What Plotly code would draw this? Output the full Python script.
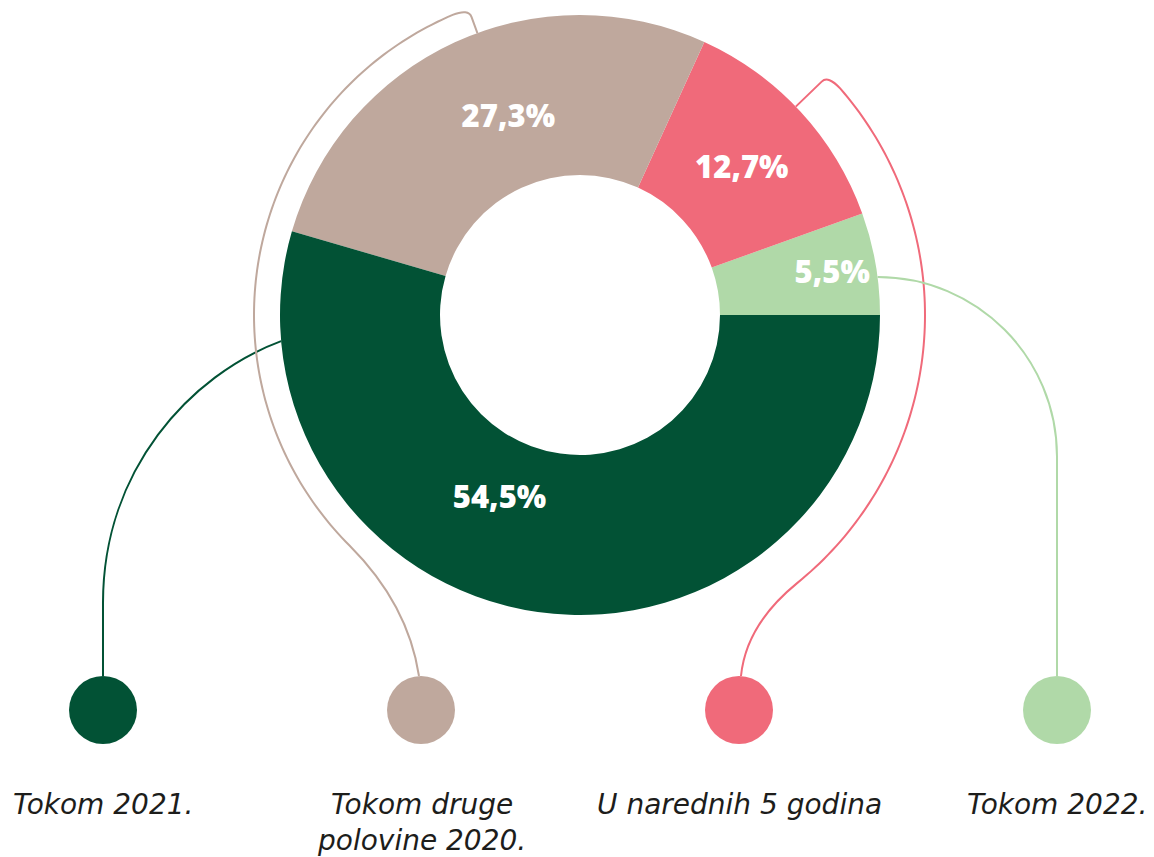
import numpy as np
import plotly.graph_objects as go

# ---------------- data ----------------
slice_labels = ["Tokom 2022.", "U narednih 5 godina", "Tokom druge polovine 2020.", "Tokom 2021."]
slice_values = [5.5, 12.7, 27.3, 54.5]
slice_colors = ["#B0D9A8", "#F06A7A", "#BFA89D", "#025235"]

legend_keys = ["Tokom 2021.", "Tokom druge polovine 2020.", "U narednih 5 godina", "Tokom 2022."]
legend_texts = ["Tokom 2021.", "Tokom druge<br>polovine 2020.", "U narednih 5 godina", "Tokom 2022."]
legend_colors = ["#025235", "#BFA89D", "#F06A7A", "#B0D9A8"]

# ---------------- layout constants ----------------
W, H = 1154, 857
CX, CY, R_OUT, R_IN = 580, 315, 300, 140
ROW_Y = 710          # pixel row of legend dots
DOT_STEP = 318       # pixel spacing between legend dots
FIRST_DOT = 103


def pt(x, y):
    return f"{x / W:.5f},{1 - y / H:.5f}"


def polar(r, deg):
    a = np.radians(deg)
    return CX + r * np.cos(a), CY - r * np.sin(a)


def arc_cmds(r, a_from, a_to, step=1.0):
    n = int(abs(a_to - a_from) / step) + 1
    angs = np.linspace(a_from, a_to, n)
    return " ".join("L " + pt(*polar(r, a)) for a in angs)


def hook_arc_path(a0, r_arc, a_end, sign, tail):
    s = polar(R_OUT, a0)
    ci = polar(r_arc - 9, a0)
    c = polar(r_arc, a0)
    af = polar(r_arc, a0 + sign * 3)
    p = f"M {pt(*s)} L {pt(*ci)} Q {pt(*c)} {pt(*af)} "
    p += arc_cmds(r_arc, a0 + sign * 3, a_end)
    (c1, c2, e) = tail
    p += f" C {pt(*c1)} {pt(*c2)} {pt(*e)}"
    return p


shapes = []
dot_r = 34
# dark green connector
s = polar(R_OUT, 185)
p_dg = (f"M {pt(*s)} C {pt(190, 375)} {pt(FIRST_DOT, 470)} {pt(FIRST_DOT, 603)} "
        f"L {pt(FIRST_DOT, ROW_Y - dot_r)}")
# taupe connector
end_t = polar(326, 225)
p_tp = hook_arc_path(110, 326, 225, +1,
                     ((end_t[0] + 40, end_t[1] + 40), (412, 630),
                      (FIRST_DOT + DOT_STEP - 2, ROW_Y - dot_r)))
# pink connector
end_p = polar(345, -51)
p_pk = hook_arc_path(44, 345, -51, -1,
                     ((end_p[0] - 27, end_p[1] + 22), (745, 635),
                      (FIRST_DOT + 2 * DOT_STEP + 2, ROW_Y - dot_r)))
# light green connector
x4 = FIRST_DOT + 3 * DOT_STEP
sy = 277
sx = CX + np.sqrt(R_OUT ** 2 - (CY - sy) ** 2)
rad = x4 - sx
k = 0.5523
p_lg = (f"M {pt(sx, sy)} C {pt(sx + k * rad, sy)} {pt(x4, sy + rad - k * rad)} {pt(x4, sy + rad)} "
        f"L {pt(x4, ROW_Y - dot_r)}")

for path, col in [(p_dg, legend_colors[0]), (p_tp, legend_colors[1]),
                  (p_pk, legend_colors[2]), (p_lg, legend_colors[3])]:
    shapes.append(dict(type="path", path=path, xref="paper", yref="paper",
                       line=dict(color=col, width=2), layer="below"))

fig = go.Figure()

# first slice should start at 3 o'clock and run counter-clockwise
first_share = slice_values[0] / sum(slice_values) * 360

# per-slice label templates (padding nudges label placement like the original)
NB = "&nbsp;"
label_templates = [
    "%{value:.1f}%",
    "%{value:.1f}%",
    NB * 5 + "%{value:.1f}%",
    "%{value:.1f}%" + NB * 20,
]

fig.add_trace(go.Pie(
    labels=slice_labels, values=slice_values,
    marker=dict(colors=slice_colors, line=dict(width=0)),
    hole=R_IN / R_OUT, sort=False, direction="counterclockwise",
    rotation=90 - first_share,
    texttemplate=label_templates, textposition="inside",
    insidetextorientation="horizontal",
    textfont=dict(family="Open Sans", size=31, color="white", weight=800),
    domain=dict(x=[(CX - R_OUT) / W, (CX + R_OUT) / W],
                y=[1 - (CY + R_OUT) / H, 1 - (CY - R_OUT) / H]),
    showlegend=False, hoverinfo="label+percent",
))

fig.add_trace(go.Scatter(
    x=legend_keys, y=[0] * len(legend_keys), mode="markers",
    marker=dict(size=2 * dot_r, color=legend_colors, line=dict(width=0)),
    showlegend=False, hoverinfo="x",
))

annotations = []
for key, txt in zip(legend_keys, legend_texts):
    annotations.append(dict(
        x=key, y=0, xref="x", yref="y", text=txt, showarrow=False,
        yanchor="top", xanchor="center", yshift=-76,
        font=dict(family="DejaVu Sans", size=28, color="#1d1d1b", style="italic"),
        align="center",
    ))

a = -FIRST_DOT / DOT_STEP
fig.update_layout(
    width=W, height=H, margin=dict(l=0, r=0, t=0, b=0),
    paper_bgcolor="white", plot_bgcolor="white",
    separators=", ",
    xaxis=dict(type="category", categoryorder="array", categoryarray=legend_keys,
               range=[a, a + W / DOT_STEP], visible=False, fixedrange=True),
    yaxis=dict(range=[-(H - ROW_Y), ROW_Y], visible=False, fixedrange=True),
    shapes=shapes, annotations=annotations,
)

fig.write_html("out.html", config={"displayModeBar": False},
               post_script="document.body.style.margin='0';document.body.style.overflow='hidden';")
